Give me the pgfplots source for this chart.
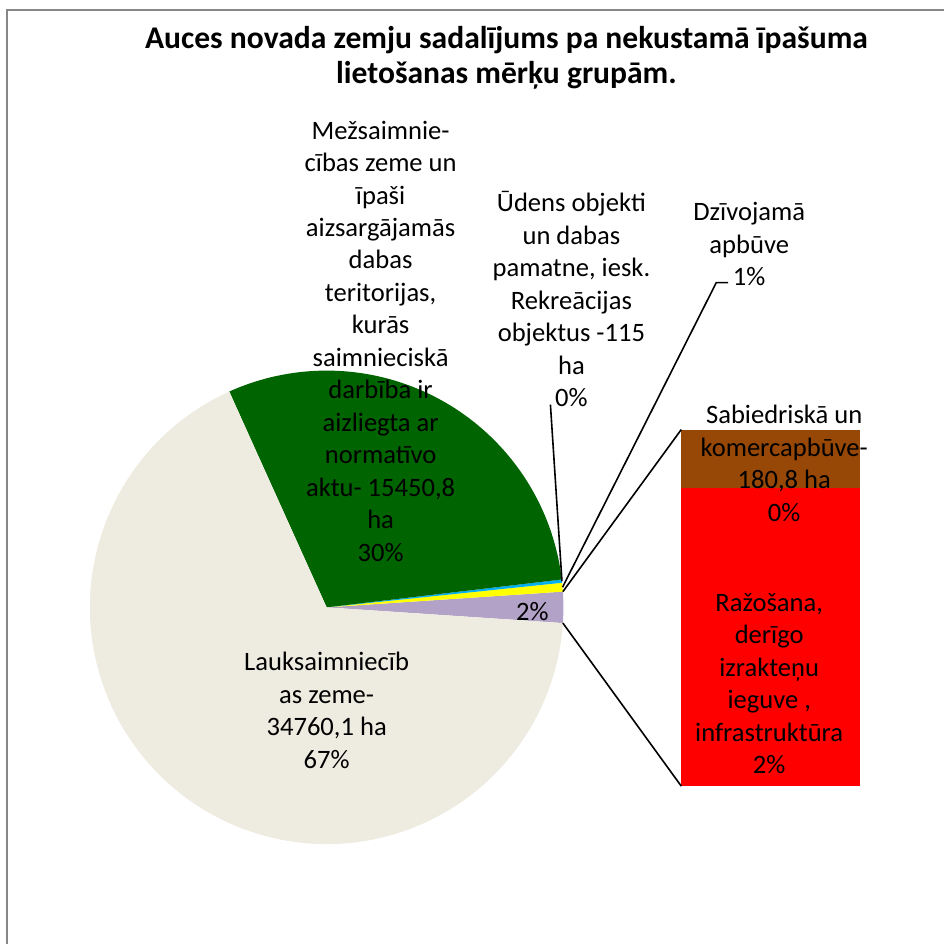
\documentclass[border=0pt]{standalone}
\usepackage{pgfplots}
\pgfplotsset{compat=1.18}
\usepackage{pgfplotstable}
\usepackage{fontspec}
\setmainfont{Carlito}
\definecolor{cLauks}{HTML}{EEECE1}
\definecolor{cMez}{HTML}{006400}
\definecolor{cUdens}{HTML}{00B0F0}
\definecolor{cDziv}{HTML}{FFFF00}
\definecolor{cOther}{HTML}{B3A2C7}
\definecolor{cSab}{HTML}{984806}
\definecolor{cRaz}{HTML}{FF0000}
\pgfplotstableread{
name value
Lauksaimnieciba 34760.1
Mezsaimnieciba 15450.8
Udens 115
Dzivojama 310
Sabiedriska 180.8
Razosana 913
}\landdata
\pgfplotstablegetelem{0}{value}\of\landdata \edef\vL{\pgfplotsretval}
\pgfplotstablegetelem{1}{value}\of\landdata \edef\vM{\pgfplotsretval}
\pgfplotstablegetelem{2}{value}\of\landdata \edef\vU{\pgfplotsretval}
\pgfplotstablegetelem{3}{value}\of\landdata \edef\vD{\pgfplotsretval}
\pgfplotstablegetelem{4}{value}\of\landdata \edef\vS{\pgfplotsretval}
\pgfplotstablegetelem{5}{value}\of\landdata \edef\vR{\pgfplotsretval}
\edef\T{\fpeval{\vL+\vM+\vU+\vD+\vS+\vR}}
\edef\aP{\fpeval{360*(\vS+\vR)/\T}}
\edef\aA{\fpeval{-\aP/2}}
\edef\aB{\fpeval{\aP/2}}
\edef\aC{\fpeval{\aB+360*\vD/\T}}
\edef\aD{\fpeval{\aC+360*\vU/\T}}
\edef\aE{\fpeval{\aD+360*\vM/\T}}
\edef\aF{\fpeval{360-\aP/2}}
% bar geometry (pixel units, y up): bottom 158, total height 357
\edef\barTop{\fpeval{158+357}}
\edef\barMid{\fpeval{158+357*\vR/(\vS+\vR)}}
% pie centre and radius (pixel units)
\def\cx{327}\def\cy{337}\def\rr{237}
\edef\pTx{\fpeval{\cx+\rr*cosd(\aB)}}\edef\pTy{\fpeval{\cy+\rr*sind(\aB)}}
\edef\pBx{\fpeval{\cx+\rr*cosd(\aA)}}\edef\pBy{\fpeval{\cy+\rr*sind(\aA)}}
\edef\mD{\fpeval{(\aB+\aC)/2}}\edef\mU{\fpeval{(\aC+\aD)/2}}
\edef\dDx{\fpeval{\cx+\rr*cosd(\mD)}}\edef\dDy{\fpeval{\cy+\rr*sind(\mD)}}
\edef\dUx{\fpeval{\cx+\rr*cosd(\mU)}}\edef\dUy{\fpeval{\cy+\rr*sind(\mU)}}
\begin{document}
\begin{tikzpicture}[lbl/.style={font=\fontsize{13.3}{16.25}\selectfont, align=center, inner sep=0pt, text=black}]
\begin{axis}[
  width=472.5pt, height=472.5pt, scale only axis,
  xmin=0, xmax=945, ymin=0, ymax=945,
  hide axis, clip=false,
]
\path (axis cs:0,0) rectangle (axis cs:945,945);
% border
\draw[color=black!47, line width=1pt] (axis cs:7,0) -- (axis cs:7,935) -- (axis cs:945,935);
% pie slices
\fill[cOther] (axis cs:\cx,\cy) -- ++(\aA:118.5pt) arc[start angle=\aA, end angle=\aB, radius=118.5pt] -- cycle;
\fill[cDziv] (axis cs:\cx,\cy) -- ++(\aB:118.5pt) arc[start angle=\aB, end angle=\aC, radius=118.5pt] -- cycle;
\fill[cUdens] (axis cs:\cx,\cy) -- ++(\aC:118.5pt) arc[start angle=\aC, end angle=\aD, radius=118.5pt] -- cycle;
\fill[cMez] (axis cs:\cx,\cy) -- ++(\aD:118.5pt) arc[start angle=\aD, end angle=\aE, radius=118.5pt] -- cycle;
\fill[cLauks] (axis cs:\cx,\cy) -- ++(\aE:118.5pt) arc[start angle=\aE, end angle=\aF, radius=118.5pt] -- cycle;
% bar of pie
\fill[cRaz] (axis cs:682,158) rectangle (axis cs:861,\barMid);
\fill[cSab] (axis cs:682,\barMid) rectangle (axis cs:861,\barTop);
% connector lines
\draw[black, line width=0.8pt] (axis cs:\pTx,\pTy) -- (axis cs:682,\barTop);
\draw[black, line width=0.8pt] (axis cs:\pBx,\pBy) -- (axis cs:682,158);
% leader lines
\draw[black, line width=0.8pt] (axis cs:\dUx,\dUy) -- (axis cs:551,540);
\draw[black, line width=0.8pt] (axis cs:\dDx,\dDy) -- (axis cs:717,662) -- (axis cs:729,662);
% title
\node[align=center, inner sep=0pt, font=\fontsize{15.8}{17.5}\selectfont\bfseries] at (axis cs:507,887.5)
  {Auces novada zemju sadalījums pa nekustamā īpašuma\\lietošanas mērķu grupām.};
% labels
\node[lbl] at (axis cs:381,603.5) {Mežsaimnie-\\cības zeme un\\īpaši\\aizsargājamās\\dabas\\teritorijas,\\kurās\\saimnieciskā\\darbība ir\\aizliegta ar\\normatīvo\\aktu- 15450,8\\ha\\30\%};
\node[lbl] at (axis cs:572,645.5) {Ūdens objekti\\un dabas\\pamatne, iesk.\\Rekreācijas\\objektus -115\\ha\\0\%};
\node[lbl] at (axis cs:750,700.5) {Dzīvojamā\\apbūve\\1\%};
\node[lbl] at (axis cs:785,481) {Sabiedriskā un\\komercapbūve-\\180,8 ha\\0\%};
\node[lbl] at (axis cs:770,260.5) {Ražošana,\\derīgo\\izrakteņu\\ieguve ,\\infrastruktūra\\2\%};
\node[lbl] at (axis cs:327,234) {Lauksaimniecīb\\as zeme-\\34760,1 ha\\67\%};
\node[lbl] at (axis cs:533,333) {2\%};
\end{axis}
\end{tikzpicture}
\end{document}
